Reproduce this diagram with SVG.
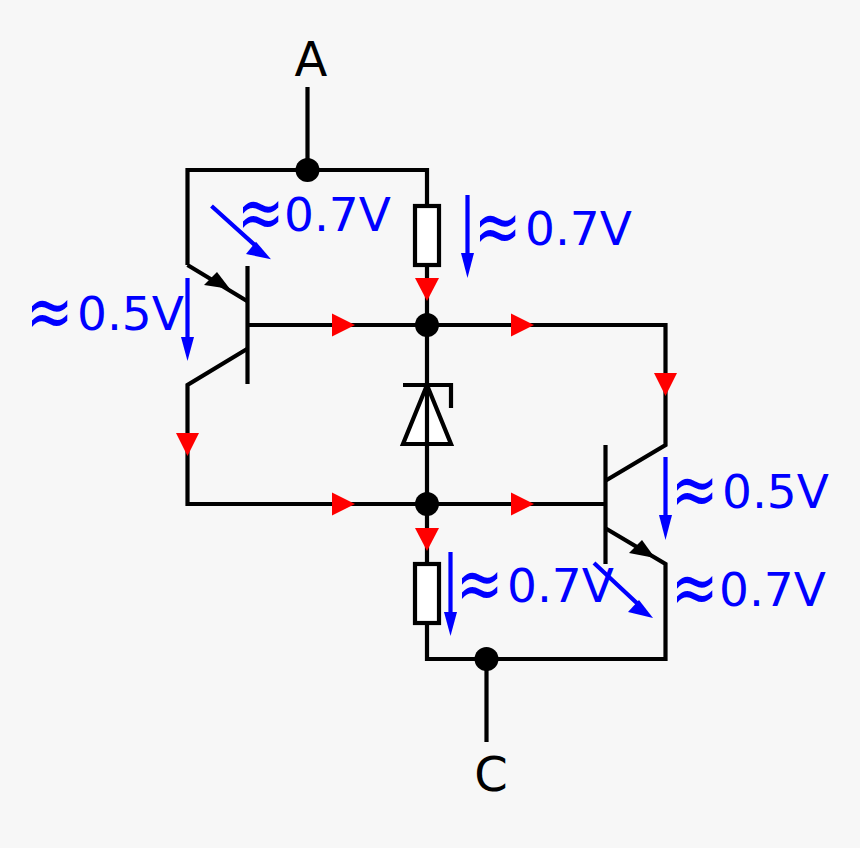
<svg xmlns="http://www.w3.org/2000/svg" width="860" height="848" viewBox="0 0 860 848">
<style>
.w{fill:none;stroke:#000;stroke-width:4.200;stroke-linejoin:miter}
.f{fill:#fff;stroke:#000;stroke-width:4.200}
.r{fill:#f00}
.b{fill:#00f}
.bl{fill:none;stroke:#00f;stroke-width:4.200}
.k{fill:#000}
text{font-family:"DejaVu Sans",sans-serif;font-size:47px}
.v{fill:#00f}
.t{fill:#000;font-size:48px}
</style>
<rect width="860" height="848" fill="#f7f7f7"/>
<g id="connectors">
<path class="w" d="M307.500 87V170H187.500V265M307.500 170H427V206M427 265V325M247 325H665.500V445L605 481M187.500 265L247 301M247 349L187.500 385V504H605M427 325V504M427 504V564M427 623V659H665.500V564L605 528M486.500 659V742"/>
</g>
<g id="transistor-left">
<path class="w" d="M247.500 266V384"/>
<polygon class="k" points="230,289 204,285 217,272"/>
</g>
<g id="transistor-right">
<path class="w" d="M605.500 445V564"/>
<polygon class="k" points="655,558 629,553 642,540"/>
</g>
<g id="resistor-top"><rect class="f" x="415" y="206" width="24" height="59"/></g>
<g id="resistor-bottom"><rect class="f" x="415" y="564" width="24" height="59"/></g>
<g id="zener">
<polygon class="f" points="427,385 403,444 451,444"/>
<path class="w" d="M427 385V444M403 385H451V408"/>
</g>
<g id="junctions">
<circle class="k" cx="307.500" cy="170" r="12"/>
<circle class="k" cx="427" cy="325" r="12"/>
<circle class="k" cx="427" cy="504" r="12"/>
<circle class="k" cx="486.500" cy="659" r="12"/>
</g>
<g id="current-arrows">
<polygon class="r" points="332,313.500 355,325 332,336.500"/>
<polygon class="r" points="511,313.500 534,325 511,336.500"/>
<polygon class="r" points="332,492.500 355,504 332,515.500"/>
<polygon class="r" points="511,492.500 534,504 511,515.500"/>
<polygon class="r" points="415,278 439,278 427,301"/>
<polygon class="r" points="654,373 677,373 665.500,396"/>
<polygon class="r" points="176,433 199,433 187.500,456"/>
<polygon class="r" points="415,528 439,528 427,551"/>
</g>
<g id="voltage-arrows">
<path class="bl" d="M211.500 206L258 248M467.500 195V258M187.500 278V341M665.500 457V520M450.500 552V616M594 563L640 606"/>
<polygon class="b" points="271,259.300 246,254 256,241.700"/>
<polygon class="b" points="467.500,278 461,253 474,253"/>
<polygon class="b" points="187.500,361 181,337 194,337"/>
<polygon class="b" points="665.500,540 659,515 672,515"/>
<polygon class="b" points="450.500,636 444,612 457,612"/>
<polygon class="b" points="653,618 628,612 639,600"/>
</g>
<g id="labels">
<text class="t" x="311" y="76" text-anchor="middle">A</text>
<text class="t" x="491" y="791" text-anchor="middle">C</text>
<text class="v" transform="translate(237 238) scale(1.2 1.6)">≈</text><text class="v" x="284" y="231">0.7V</text>
<text class="v" transform="translate(474 252) scale(1.2 1.6)">≈</text><text class="v" x="525" y="245">0.7V</text>
<text class="v" transform="translate(26 337) scale(1.2 1.6)">≈</text><text class="v" x="77" y="330">0.5V</text>
<text class="v" transform="translate(671 515) scale(1.2 1.6)">≈</text><text class="v" x="722" y="508">0.5V</text>
<text class="v" transform="translate(456 609) scale(1.2 1.6)">≈</text><text class="v" x="507" y="602">0.7V</text>
<text class="v" transform="translate(671 613) scale(1.2 1.6)">≈</text><text class="v" x="719" y="606">0.7V</text>
</g>
</svg>
